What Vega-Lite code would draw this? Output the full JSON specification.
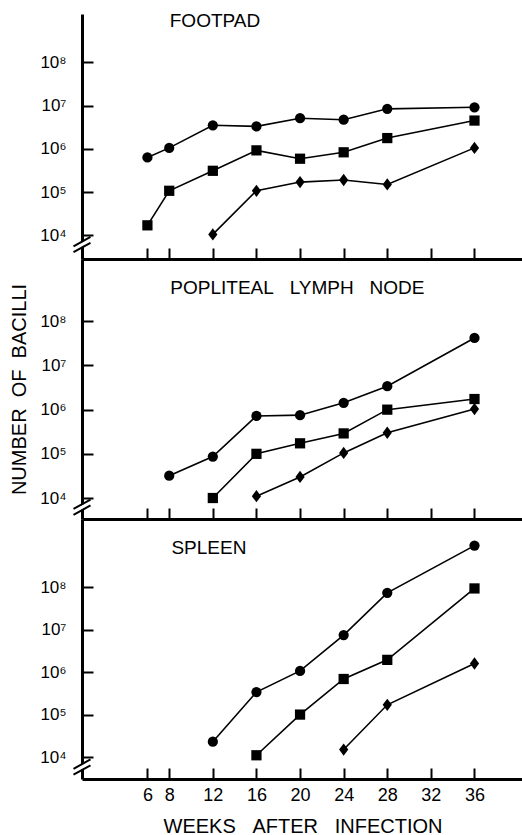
{
  "$schema": "https://vega.github.io/schema/vega-lite/v6.json",
  "padding": {"left": 9, "top": 12, "right": 0, "bottom": 0},
  "spacing": 0,
  "bounds": "flush",
  "datasets": {
    "bacilli": [
      {"organ": "Footpad", "group": "circle", "week": 6, "count": 630000},
      {"organ": "Footpad", "group": "circle", "week": 8, "count": 1050000},
      {"organ": "Footpad", "group": "circle", "week": 12, "count": 3500000},
      {"organ": "Footpad", "group": "circle", "week": 16, "count": 3300000},
      {"organ": "Footpad", "group": "circle", "week": 20, "count": 5100000},
      {"organ": "Footpad", "group": "circle", "week": 24, "count": 4700000},
      {"organ": "Footpad", "group": "circle", "week": 28, "count": 8400000},
      {"organ": "Footpad", "group": "circle", "week": 36, "count": 9100000},
      {"organ": "Footpad", "group": "square", "week": 6, "count": 17000},
      {"organ": "Footpad", "group": "square", "week": 8, "count": 107000},
      {"organ": "Footpad", "group": "square", "week": 12, "count": 310000},
      {"organ": "Footpad", "group": "square", "week": 16, "count": 920000},
      {"organ": "Footpad", "group": "square", "week": 20, "count": 590000},
      {"organ": "Footpad", "group": "square", "week": 24, "count": 830000},
      {"organ": "Footpad", "group": "square", "week": 28, "count": 1770000},
      {"organ": "Footpad", "group": "square", "week": 36, "count": 4500000},
      {"organ": "Footpad", "group": "diamond", "week": 12, "count": 10500},
      {"organ": "Footpad", "group": "diamond", "week": 16, "count": 107000},
      {"organ": "Footpad", "group": "diamond", "week": 20, "count": 170000},
      {"organ": "Footpad", "group": "diamond", "week": 24, "count": 190000},
      {"organ": "Footpad", "group": "diamond", "week": 28, "count": 150000},
      {"organ": "Footpad", "group": "diamond", "week": 36, "count": 1050000},
      {"organ": "Lymph", "group": "circle", "week": 8, "count": 32000},
      {"organ": "Lymph", "group": "circle", "week": 12, "count": 87000},
      {"organ": "Lymph", "group": "circle", "week": 16, "count": 720000},
      {"organ": "Lymph", "group": "circle", "week": 20, "count": 750000},
      {"organ": "Lymph", "group": "circle", "week": 24, "count": 1430000},
      {"organ": "Lymph", "group": "circle", "week": 28, "count": 3400000},
      {"organ": "Lymph", "group": "circle", "week": 36, "count": 42000000},
      {"organ": "Lymph", "group": "square", "week": 12, "count": 10000},
      {"organ": "Lymph", "group": "square", "week": 16, "count": 100000},
      {"organ": "Lymph", "group": "square", "week": 20, "count": 173000},
      {"organ": "Lymph", "group": "square", "week": 24, "count": 290000},
      {"organ": "Lymph", "group": "square", "week": 28, "count": 1000000},
      {"organ": "Lymph", "group": "square", "week": 36, "count": 1740000},
      {"organ": "Lymph", "group": "diamond", "week": 16, "count": 11000},
      {"organ": "Lymph", "group": "diamond", "week": 20, "count": 30000},
      {"organ": "Lymph", "group": "diamond", "week": 24, "count": 105000},
      {"organ": "Lymph", "group": "diamond", "week": 28, "count": 300000},
      {"organ": "Lymph", "group": "diamond", "week": 36, "count": 1030000},
      {"organ": "Spleen", "group": "circle", "week": 12, "count": 23000},
      {"organ": "Spleen", "group": "circle", "week": 16, "count": 340000},
      {"organ": "Spleen", "group": "circle", "week": 20, "count": 1070000},
      {"organ": "Spleen", "group": "circle", "week": 24, "count": 7500000},
      {"organ": "Spleen", "group": "circle", "week": 28, "count": 74000000},
      {"organ": "Spleen", "group": "circle", "week": 36, "count": 960000000},
      {"organ": "Spleen", "group": "square", "week": 16, "count": 11000},
      {"organ": "Spleen", "group": "square", "week": 20, "count": 100000},
      {"organ": "Spleen", "group": "square", "week": 24, "count": 690000},
      {"organ": "Spleen", "group": "square", "week": 28, "count": 1950000},
      {"organ": "Spleen", "group": "square", "week": 36, "count": 94000000},
      {"organ": "Spleen", "group": "diamond", "week": 24, "count": 15000},
      {"organ": "Spleen", "group": "diamond", "week": 28, "count": 170000},
      {"organ": "Spleen", "group": "diamond", "week": 36, "count": 1600000}
    ]
  },
  "vconcat": [
    {
      "width": 441,
      "height": 245,
      "layer": [
        {
          "data": {"name": "bacilli"},
          "transform": [{"filter": "datum.organ === 'Footpad'"}],
          "mark": {"type": "line", "color": "black", "strokeWidth": 1.6},
          "encoding": {
            "x": {"field": "week", "type": "quantitative", "scale": {"domain": [0, 40.45], "nice": false, "zero": false},
                  "axis": {"values": [6, 8, 12, 16, 20, 24, 28, 32, 36], "tickSize": -11, "labels": false, "title": null}},
            "y": {"field": "count", "type": "quantitative", "scale": {"type": "log", "domain": [2831, 1309000000], "nice": false},
                  "axis": {"values": [10000, 100000, 1000000, 10000000, 100000000], "tickSize": -11, "labelPadding": 27, "labelFontSize": 17,
                           "labelExpr": "'10' + ['⁰','¹','²','³','⁴','⁵','⁶','⁷','⁸','⁹'][round(log(datum.value)/LN10)]", "title": null}},
            "detail": {"field": "group"}
          }
        },
        {
          "data": {"name": "bacilli"},
          "transform": [{"filter": "datum.organ === 'Footpad'"}],
          "mark": {"type": "point", "filled": true, "color": "black", "opacity": 1, "size": 105},
          "encoding": {
            "x": {"field": "week", "type": "quantitative"},
            "y": {"field": "count", "type": "quantitative"},
            "shape": {"field": "group", "scale": {"domain": ["circle", "square", "diamond"], "range": ["circle", "square", "M0,-1.2L0.9,0L0,1.2L-0.9,0Z"]}, "legend": null}
          }
        },
        {
          "data": {"values": [{"label": "FOOTPAD"}]},
          "mark": {"type": "text", "align": "left", "baseline": "alphabetic", "fontSize": 19, "color": "black"},
          "encoding": {
            "x": {"datum": 8.05, "type": "quantitative"},
            "y": {"datum": 655000000, "type": "quantitative"},
            "text": {"field": "label"}
          }
        },
        {
          "data": {"values": [{}]},
          "mark": {"type": "point", "filled": true, "color": "white", "opacity": 1, "size": 289, "shape": "M-0.45,0L0.45,-0.5L0.45,0L-0.45,0.5Z"},
          "encoding": {
            "x": {"datum": 0, "type": "quantitative"},
            "y": {"datum": 6100, "type": "quantitative"}
          }
        },
        {
          "data": {"values": [{}]},
          "mark": {"type": "point", "filled": false, "color": "black", "strokeWidth": 2, "opacity": 1, "size": 289, "shape": "M-1,0.2L1,-0.9M-1,0.9L1,-0.2"},
          "encoding": {
            "x": {"datum": 0, "type": "quantitative"},
            "y": {"datum": 6100, "type": "quantitative"}
          }
        }
      ]
    },
    {
      "width": 441,
      "height": 260,
      "layer": [
        {
          "data": {"name": "bacilli"},
          "transform": [{"filter": "datum.organ === 'Lymph'"}],
          "mark": {"type": "line", "color": "black", "strokeWidth": 1.6},
          "encoding": {
            "x": {"field": "week", "type": "quantitative", "scale": {"domain": [0, 40.45], "nice": false, "zero": false},
                  "axis": {"values": [6, 8, 12, 16, 20, 24, 28, 32, 36], "tickSize": -11, "labels": false, "title": null}},
            "y": {"field": "count", "type": "quantitative", "scale": {"type": "log", "domain": [3350, 2570000000], "nice": false},
                  "axis": {"values": [10000, 100000, 1000000, 10000000, 100000000], "tickSize": -11, "labelPadding": 27, "labelFontSize": 17,
                           "labelExpr": "'10' + ['⁰','¹','²','³','⁴','⁵','⁶','⁷','⁸','⁹'][round(log(datum.value)/LN10)]",
                           "title": "NUMBER\u00a0\u00a0OF\u00a0\u00a0BACILLI", "titleFontSize": 20, "titlePadding": 10}},
            "detail": {"field": "group"}
          }
        },
        {
          "data": {"name": "bacilli"},
          "transform": [{"filter": "datum.organ === 'Lymph'"}],
          "mark": {"type": "point", "filled": true, "color": "black", "opacity": 1, "size": 105},
          "encoding": {
            "x": {"field": "week", "type": "quantitative"},
            "y": {"field": "count", "type": "quantitative"},
            "shape": {"field": "group", "scale": {"domain": ["circle", "square", "diamond"], "range": ["circle", "square", "M0,-1.2L0.9,0L0,1.2L-0.9,0Z"]}, "legend": null}
          }
        },
        {
          "data": {"values": [{"label": "POPLITEAL\u00a0\u00a0\u00a0LYMPH\u00a0\u00a0\u00a0NODE"}]},
          "mark": {"type": "text", "align": "left", "baseline": "alphabetic", "fontSize": 19, "color": "black"},
          "encoding": {
            "x": {"datum": 8.1, "type": "quantitative"},
            "y": {"datum": 422000000, "type": "quantitative"},
            "text": {"field": "label"}
          }
        },
        {
          "data": {"values": [{}]},
          "mark": {"type": "point", "filled": true, "color": "white", "opacity": 1, "size": 289, "shape": "M-0.45,0L0.45,-0.5L0.45,0L-0.45,0.5Z"},
          "encoding": {
            "x": {"datum": 0, "type": "quantitative"},
            "y": {"datum": 6200, "type": "quantitative"}
          }
        },
        {
          "data": {"values": [{}]},
          "mark": {"type": "point", "filled": false, "color": "black", "strokeWidth": 2, "opacity": 1, "size": 289, "shape": "M-1,0.2L1,-0.9M-1,0.9L1,-0.2"},
          "encoding": {
            "x": {"datum": 0, "type": "quantitative"},
            "y": {"datum": 6200, "type": "quantitative"}
          }
        }
      ]
    },
    {
      "width": 441,
      "height": 260,
      "layer": [
        {
          "data": {"name": "bacilli"},
          "transform": [{"filter": "datum.organ === 'Spleen'"}],
          "mark": {"type": "line", "color": "black", "strokeWidth": 1.6},
          "encoding": {
            "x": {"field": "week", "type": "quantitative", "scale": {"domain": [0, 40.45], "nice": false, "zero": false},
                  "axis": {"values": [6, 8, 12, 16, 20, 24, 28, 32, 36], "tickSize": -11, "labelFontSize": 18, "labelPadding": 18,
                           "labelOverlap": false, "labelFlush": false,
                           "title": "WEEKS\u00a0\u00a0\u00a0AFTER\u00a0\u00a0\u00a0INFECTION", "titleFontSize": 20, "titlePadding": 12}},
            "y": {"field": "count", "type": "quantitative", "scale": {"type": "log", "domain": [3034, 4070000000], "nice": false},
                  "axis": {"values": [10000, 100000, 1000000, 10000000, 100000000], "tickSize": -11, "labelPadding": 27, "labelFontSize": 17,
                           "labelExpr": "'10' + ['⁰','¹','²','³','⁴','⁵','⁶','⁷','⁸','⁹'][round(log(datum.value)/LN10)]", "title": null}},
            "detail": {"field": "group"}
          }
        },
        {
          "data": {"name": "bacilli"},
          "transform": [{"filter": "datum.organ === 'Spleen'"}],
          "mark": {"type": "point", "filled": true, "color": "black", "opacity": 1, "size": 105},
          "encoding": {
            "x": {"field": "week", "type": "quantitative"},
            "y": {"field": "count", "type": "quantitative"},
            "shape": {"field": "group", "scale": {"domain": ["circle", "square", "diamond"], "range": ["circle", "square", "M0,-1.2L0.9,0L0,1.2L-0.9,0Z"]}, "legend": null}
          }
        },
        {
          "data": {"values": [{"label": "SPLEEN"}]},
          "mark": {"type": "text", "align": "left", "baseline": "alphabetic", "fontSize": 19, "color": "black"},
          "encoding": {
            "x": {"datum": 8.2, "type": "quantitative"},
            "y": {"datum": 598000000, "type": "quantitative"},
            "text": {"field": "label"}
          }
        },
        {
          "data": {"values": [{}]},
          "mark": {"type": "point", "filled": true, "color": "white", "opacity": 1, "size": 289, "shape": "M-0.45,0L0.45,-0.5L0.45,0L-0.45,0.5Z"},
          "encoding": {
            "x": {"datum": 0, "type": "quantitative"},
            "y": {"datum": 5800, "type": "quantitative"}
          }
        },
        {
          "data": {"values": [{}]},
          "mark": {"type": "point", "filled": false, "color": "black", "strokeWidth": 2, "opacity": 1, "size": 289, "shape": "M-1,0.2L1,-0.9M-1,0.9L1,-0.2"},
          "encoding": {
            "x": {"datum": 0, "type": "quantitative"},
            "y": {"datum": 5800, "type": "quantitative"}
          }
        }
      ]
    }
  ],
  "config": {
    "font": "Liberation Sans",
    "view": {"stroke": null},
    "axis": {
      "domainColor": "black", "domainWidth": 3, "tickColor": "black", "tickWidth": 2,
      "labelColor": "black", "titleColor": "black", "grid": false,
      "labelFont": "Liberation Sans", "titleFont": "Liberation Sans",
      "labelFontWeight": "normal", "titleFontWeight": "normal"
    }
  }
}
